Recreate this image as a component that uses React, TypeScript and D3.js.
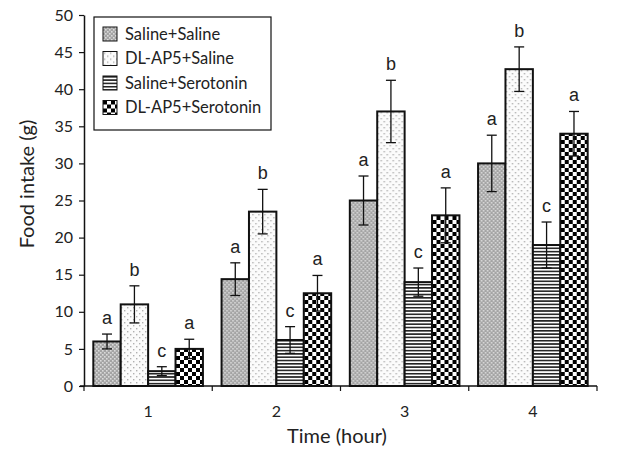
import React, { useEffect, useRef } from 'react';
import * as d3 from 'd3';

const hours = ['1', '2', '3', '4'];
const groups = ['Saline+Saline', 'DL-AP5+Saline', 'Saline+Serotonin', 'DL-AP5+Serotonin'];
const means = [
  [6, 11, 2, 5],
  [14.4, 23.5, 6.2, 12.5],
  [25, 37, 14, 23],
  [30, 42.7, 19, 34],
];
const errors = [
  [1, 2.5, 0.6, 1.3],
  [2.2, 3, 1.8, 2.4],
  [3.3, 4.2, 1.9, 3.7],
  [3.8, 3, 3.1, 3],
];
const letters = [
  ['a', 'b', 'c', 'a'],
  ['a', 'b', 'c', 'a'],
  ['a', 'b', 'c', 'a'],
  ['a', 'b', 'c', 'a'],
];
const yTicks = [0, 5, 10, 15, 20, 25, 30, 35, 40, 45, 50];

const App = () => {
  const svgRef = useRef<SVGSVGElement>(null);

  useEffect(() => {
    const svg = d3.select(svgRef.current);
    svg.selectAll('*').remove();

    const width = 636;
    const height = 450;
    const margin = { top: 15, right: 39, bottom: 64, left: 84 };
    const font = 'Lato, "Open Sans", sans-serif';

    const defs = svg.append('defs');

    // fill patterns
    const p0 = defs.append('pattern').attr('id', 'pat0').attr('width', 4).attr('height', 4)
      .attr('patternUnits', 'userSpaceOnUse');
    p0.append('rect').attr('width', 4).attr('height', 4).attr('fill', '#a4a4a4');
    p0.append('rect').attr('width', 1.6).attr('height', 1.6).attr('fill', '#dadada');
    p0.append('rect').attr('x', 2).attr('y', 2).attr('width', 1.6).attr('height', 1.6).attr('fill', '#dadada');

    const p1 = defs.append('pattern').attr('id', 'pat1').attr('width', 6).attr('height', 6)
      .attr('patternUnits', 'userSpaceOnUse');
    p1.append('rect').attr('width', 6).attr('height', 6).attr('fill', '#fbfbfb');
    p1.append('rect').attr('x', 1).attr('y', 1).attr('width', 1.4).attr('height', 1.4).attr('fill', '#b0b0b0');
    p1.append('rect').attr('x', 4).attr('y', 4).attr('width', 1.4).attr('height', 1.4).attr('fill', '#b0b0b0');

    const p2 = defs.append('pattern').attr('id', 'pat2').attr('width', 6).attr('height', 3.3)
      .attr('patternUnits', 'userSpaceOnUse');
    p2.append('rect').attr('width', 6).attr('height', 3.3).attr('fill', '#ffffff');
    p2.append('rect').attr('width', 6).attr('height', 1.6).attr('fill', '#222');

    const p3 = defs.append('pattern').attr('id', 'pat3').attr('width', 8).attr('height', 8)
      .attr('patternUnits', 'userSpaceOnUse');
    p3.append('rect').attr('width', 8).attr('height', 8).attr('fill', '#ffffff');
    p3.append('rect').attr('width', 4).attr('height', 4).attr('fill', '#000');
    p3.append('rect').attr('x', 4).attr('y', 4).attr('width', 4).attr('height', 4).attr('fill', '#000');

    const x0 = d3.scaleBand().domain(hours)
      .range([margin.left, width - margin.right]).paddingInner(0).paddingOuter(0);
    const x1 = d3.scaleBand().domain(groups)
      .range([0, x0.bandwidth()]).paddingOuter(0.34).paddingInner(0);
    const y = d3.scaleLinear().domain([0, 50]).range([height - margin.bottom, margin.top]);

    // bars
    hours.forEach((h, i) => {
      const g = svg.append('g').attr('transform', `translate(${x0(h)},0)`);
      groups.forEach((s, j) => {
        const v = means[i][j];
        const e = errors[i][j];
        const bx = x1(s)!;
        const bw = x1.bandwidth();
        g.append('rect')
          .attr('x', bx).attr('y', y(v))
          .attr('width', bw).attr('height', y(0) - y(v))
          .attr('fill', `url(#pat${j})`)
          .attr('stroke', '#111').attr('stroke-width', 2);
        const cx = bx + bw / 2;
        g.append('line').attr('x1', cx).attr('x2', cx)
          .attr('y1', y(v - e)).attr('y2', y(v + e))
          .attr('stroke', '#111').attr('stroke-width', 1.3);
        [v - e, v + e].forEach(t => {
          g.append('line').attr('x1', cx - 5).attr('x2', cx + 5)
            .attr('y1', y(t)).attr('y2', y(t))
            .attr('stroke', '#111').attr('stroke-width', 1.3);
        });
        g.append('text')
          .attr('x', cx).attr('y', y(v + e) - 10)
          .attr('text-anchor', 'middle')
          .attr('font-family', 'Liberation Sans, Arial, sans-serif')
          .attr('font-size', 18).attr('fill', '#222')
          .text(letters[i][j]);
      });
    });

    // y axis
    const yAxis = svg.append('g')
      .attr('transform', `translate(${margin.left},0)`)
      .call(d3.axisLeft(y).tickValues(yTicks).tickSize(5).tickSizeOuter(0));
    yAxis.select('.domain').attr('stroke', '#111').attr('stroke-width', 1.5);
    yAxis.selectAll('.tick line').attr('stroke', '#111').attr('stroke-width', 1.2);
    yAxis.selectAll('.tick text').attr('fill', '#222').attr('font-size', 16)
      .attr('font-family', font).attr('x', -11);

    // x axis
    const xAxis = svg.append('g')
      .attr('transform', `translate(0,${y(0)})`)
      .call(d3.axisBottom(x0).tickSize(0).tickSizeOuter(0));
    xAxis.select('.domain').attr('stroke', '#111').attr('stroke-width', 1.5)
      .attr('d', `M${margin.left - 4},0H${width - margin.right}`);
    xAxis.selectAll('.tick text').attr('fill', '#222').attr('font-size', 16)
      .attr('font-family', font).attr('dy', '1.75em');
    // boundary ticks between hours
    const bounds = hours.map(h => x0(h)!).concat([x0(hours[hours.length - 1])! + x0.bandwidth()]);
    xAxis.selectAll('.bound').data(bounds).join('line')
      .attr('x1', d => d).attr('x2', d => d).attr('y1', 0).attr('y2', 5)
      .attr('stroke', '#111').attr('stroke-width', 1.2);

    // axis titles
    svg.append('text')
      .attr('x', 337).attr('y', 443)
      .attr('text-anchor', 'middle').attr('font-family', font)
      .attr('font-size', 20).attr('fill', '#222').text('Time (hour)');
    svg.append('text')
      .attr('transform', `translate(34,${184}) rotate(-90)`)
      .attr('text-anchor', 'middle').attr('font-family', font)
      .attr('font-size', 20).attr('fill', '#222').text('Food intake (g)');

    // legend
    const lg = svg.append('g').attr('transform', 'translate(94,17)');
    lg.append('rect').attr('width', 177).attr('height', 113)
      .attr('fill', '#fff').attr('stroke', '#111').attr('stroke-width', 1.2);
    groups.forEach((s, j) => {
      const row = lg.append('g').attr('transform', `translate(9,${10 + j * 24.5})`);
      row.append('rect').attr('width', 14).attr('height', 14)
        .attr('fill', `url(#pat${j})`).attr('stroke', '#111').attr('stroke-width', 1);
      row.append('text').attr('x', 22).attr('y', 12.5)
        .attr('font-family', font).attr('font-size', 16.5).attr('fill', '#222').text(s);
    });
  }, []);

  return (
    <svg ref={svgRef} width={636} height={450} viewBox="0 0 636 450"
      style={{ display: 'block', position: 'absolute', left: 0, top: 0, background: '#fff' }} />
  );
};

export default App;
